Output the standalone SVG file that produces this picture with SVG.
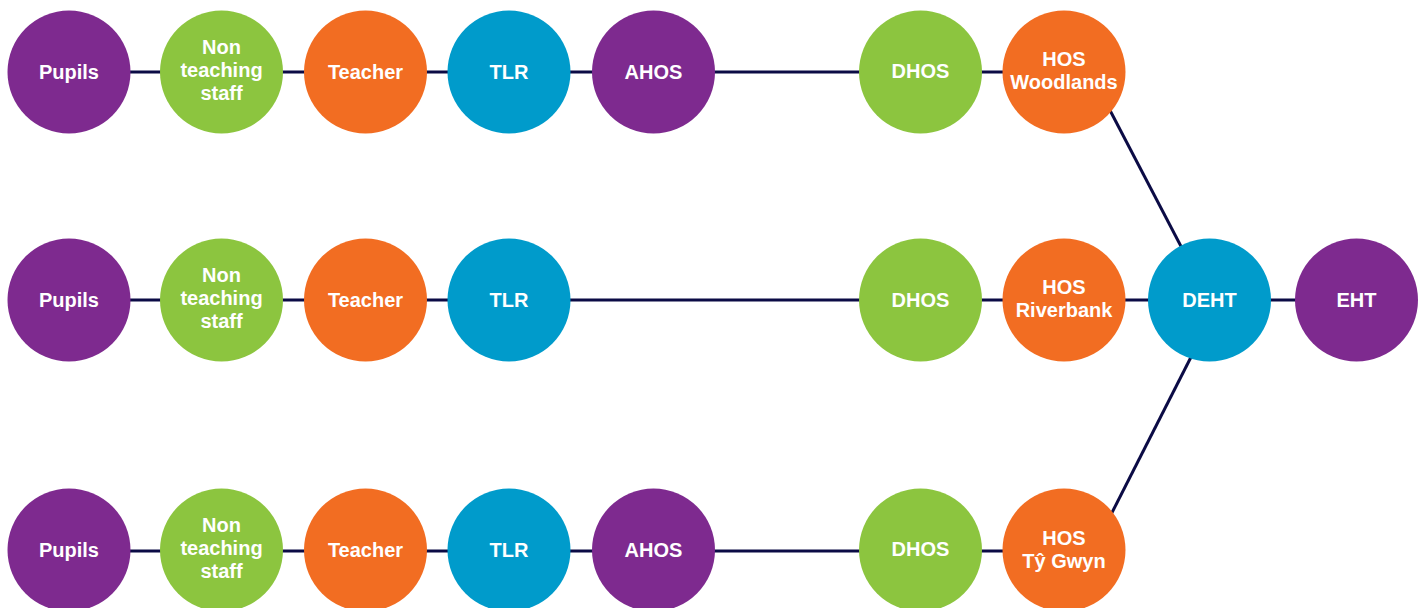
<svg xmlns="http://www.w3.org/2000/svg" width="1427" height="608" viewBox="0 0 1427 608">
<style>
.p{fill:#7E2A8F}.g{fill:#8CC53F}.o{fill:#F26D22}.b{fill:#009BCB}
text{font-family:"Liberation Sans",Arial,sans-serif;font-weight:bold;font-size:20px;fill:#fff;text-anchor:middle}
.c line{stroke:#0B0B45;stroke-width:3}
</style>
<rect width="1427" height="608" fill="#fff"/>
<g class="c" id="connectors">
<line x1="69" y1="72" x2="921" y2="72"/>
<line x1="921" y1="72" x2="1064" y2="72"/>
<line x1="1090" y1="72" x2="1209" y2="300"/>
<line x1="69" y1="300" x2="1356" y2="300"/>
<line x1="69" y1="551" x2="1064" y2="551"/>
<line x1="1093" y1="550" x2="1220" y2="300"/>
</g>
<g id="r1-pupils"><circle class="p" cx="69" cy="72" r="61.5"/><text x="69" y="79">Pupils</text></g>
<g id="r1-nts"><circle class="g" cx="221.5" cy="72" r="61.5"/><text x="221.5" y="54">Non</text><text x="221.5" y="77">teaching</text><text x="221.5" y="100">staff</text></g>
<g id="r1-teacher"><circle class="o" cx="365.5" cy="72" r="61.5"/><text x="365.5" y="79">Teacher</text></g>
<g id="r1-tlr"><circle class="b" cx="509" cy="72" r="61.5"/><text x="509" y="79">TLR</text></g>
<g id="r1-ahos"><circle class="p" cx="653.5" cy="72" r="61.5"/><text x="653.5" y="79">AHOS</text></g>
<g id="r1-dhos"><circle class="g" cx="920.5" cy="72" r="61.5"/><text x="920.5" y="78">DHOS</text></g>
<g id="hos-woodlands"><circle class="o" cx="1064" cy="72" r="61.5"/><text x="1064" y="66">HOS</text><text x="1064" y="89">Woodlands</text></g>

<g id="r2-pupils"><circle class="p" cx="69" cy="300" r="61.5"/><text x="69" y="307">Pupils</text></g>
<g id="r2-nts"><circle class="g" cx="221.5" cy="300" r="61.5"/><text x="221.5" y="282">Non</text><text x="221.5" y="305">teaching</text><text x="221.5" y="328">staff</text></g>
<g id="r2-teacher"><circle class="o" cx="365.5" cy="300" r="61.5"/><text x="365.5" y="307">Teacher</text></g>
<g id="r2-tlr"><circle class="b" cx="509" cy="300" r="61.5"/><text x="509" y="307">TLR</text></g>
<g id="r2-dhos"><circle class="g" cx="920.5" cy="300" r="61.5"/><text x="920.5" y="307">DHOS</text></g>
<g id="hos-riverbank"><circle class="o" cx="1064" cy="300" r="61.5"/><text x="1064" y="294">HOS</text><text x="1064" y="317">Riverbank</text></g>
<g id="deht"><circle class="b" cx="1209.5" cy="300" r="61.5"/><text x="1209.5" y="307">DEHT</text></g>
<g id="eht"><circle class="p" cx="1356.5" cy="300" r="61.5"/><text x="1356.5" y="307">EHT</text></g>

<g id="r3-pupils"><circle class="p" cx="69" cy="550" r="61.5"/><text x="69" y="557">Pupils</text></g>
<g id="r3-nts"><circle class="g" cx="221.5" cy="550" r="61.5"/><text x="221.5" y="532">Non</text><text x="221.5" y="555">teaching</text><text x="221.5" y="578">staff</text></g>
<g id="r3-teacher"><circle class="o" cx="365.5" cy="550" r="61.5"/><text x="365.5" y="557">Teacher</text></g>
<g id="r3-tlr"><circle class="b" cx="509" cy="550" r="61.5"/><text x="509" y="557">TLR</text></g>
<g id="r3-ahos"><circle class="p" cx="653.5" cy="550" r="61.5"/><text x="653.5" y="557">AHOS</text></g>
<g id="r3-dhos"><circle class="g" cx="920.5" cy="550" r="61.5"/><text x="920.5" y="556">DHOS</text></g>
<g id="hos-tygwyn"><circle class="o" cx="1064" cy="550" r="61.5"/><text x="1064" y="545">HOS</text><text x="1064" y="568">Tŷ Gwyn</text></g>
</svg>
